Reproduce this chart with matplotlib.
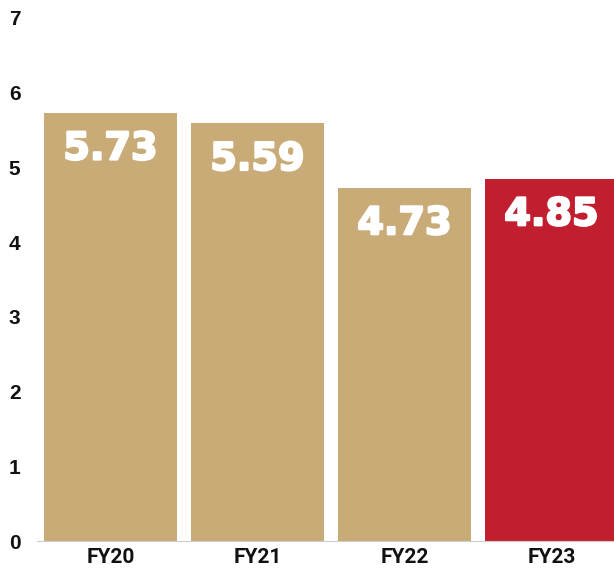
import matplotlib.pyplot as plt
import matplotlib.patheffects as pe

years = ['FY20', 'FY21', 'FY22', 'FY23']
values = [5.73, 5.59, 4.73, 4.85]
colors = ['#C9AB77', '#C9AB77', '#C9AB77', '#C11E2F']

fig = plt.figure(figsize=(6.14, 5.75), dpi=100)
ax = fig.add_axes([0.065, 0.059, 0.935, 0.9097])

x = range(len(years))
bars = ax.bar(x, values, width=0.905, color=colors)

# etiquetas dentro de las barras (trazo blanco para hacerlas más gruesas)
for xi, v in zip(x, values):
    ax.text(xi, v - 0.49, f'{v:.2f}', ha='center', va='center', color='white',
            fontsize=27.5, fontweight='bold', family='DejaVu Sans',
            path_effects=[pe.withStroke(linewidth=1.6, foreground='white')])

ax.set_xlim(-0.48, 3.425)
ax.set_ylim(0, 7)
ax.set_yticks(range(8))
ax.set_xticks(list(x))
ax.set_xticklabels(years)
for lab in ax.get_xticklabels():
    lab.set_fontfamily('Roboto')
    lab.set_fontweight('bold')
    lab.set_fontsize(15)
    lab.set_color('#111111')
for lab in ax.get_yticklabels():
    lab.set_fontfamily('Liberation Sans')
    lab.set_fontweight('bold')
    lab.set_fontsize(15)
    lab.set_color('#111111')
ax.tick_params(length=0, pad=5)
ax.tick_params(axis='y', pad=14)

for s in ['top', 'right', 'left']:
    ax.spines[s].set_visible(False)
ax.spines['bottom'].set_color('#cccccc')
ax.spines['bottom'].set_bounds(-0.5, 3.425)
ax.spines['bottom'].set_clip_on(False)

fig.savefig('out.png', dpi=100)
